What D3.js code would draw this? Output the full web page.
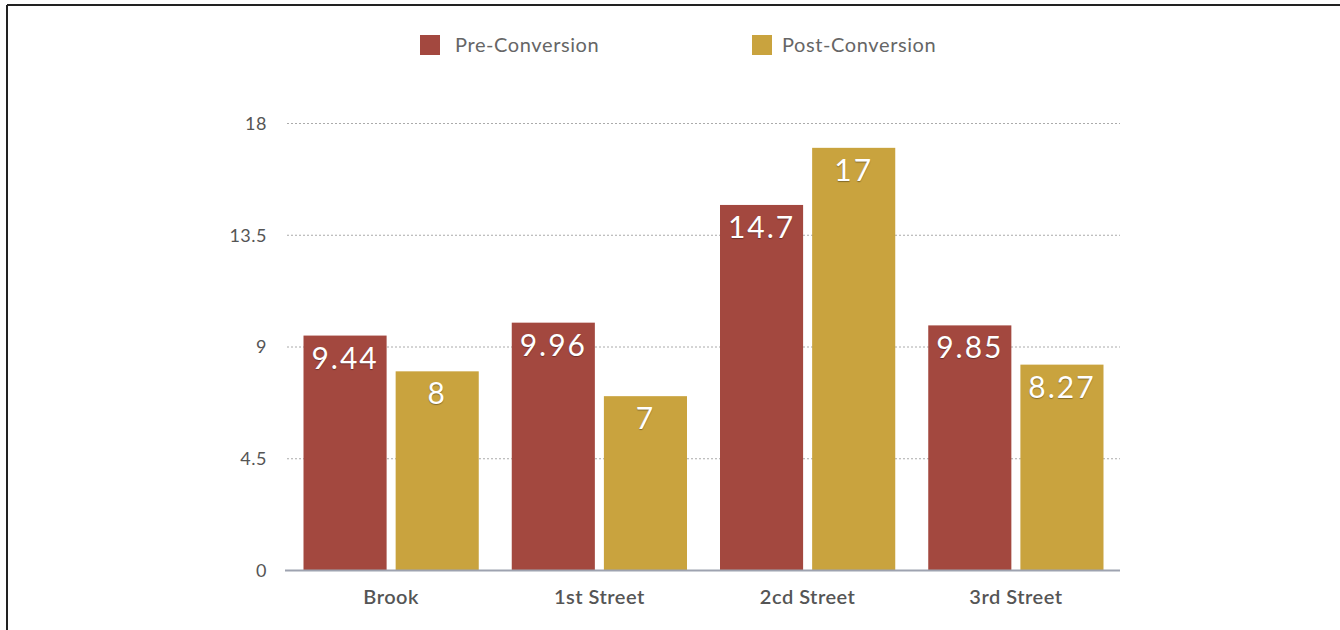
<!DOCTYPE html>
<html>
<head>
<meta charset="utf-8">
<script src="https://cdn.jsdelivr.net/npm/d3@7"></script>
<style>
  body { margin: 0; background: #fff; }
  text { font-family: Lato, "Open Sans", sans-serif; }
</style>
</head>
<body>
<svg id="chart"></svg>
<script>
// data
let categories = ["Brook", "1st Street", "2cd Street", "3rd Street"];
let seriesNames = ["Pre-Conversion", "Post-Conversion"];
let preValues = [9.44, 9.96, 14.7, 9.85];
let postValues = [8, 7, 17, 8.27];
let tickValues = [0, 4.5, 9, 13.5, 18];

let colors = ["#a3483f", "#c9a33e"];

let width = 1340;
let height = 630;

let svg = d3.select("#chart").attr("width", width).attr("height", height);

// frame lines at top and left
svg.append("line")
    .attr("x1", 7).attr("x2", width).attr("y1", 5).attr("y2", 5)
    .attr("stroke", "#222").attr("stroke-width", 2);
svg.append("line")
    .attr("x1", 7).attr("x2", 7).attr("y1", 5).attr("y2", height)
    .attr("stroke", "#222").attr("stroke-width", 2);

let plotLeft = 287, plotRight = 1120, plotTop = 123, plotBottom = 570;

let y = d3.scaleLinear().domain([0, 18]).range([plotBottom, plotTop]);

let x0 = d3.scaleBand()
    .domain(categories)
    .range([plotLeft, plotRight])
    .paddingInner(33 / 208.25)
    .paddingOuter(16.5 / 208.25);

let x1 = d3.scaleBand()
    .domain(seriesNames)
    .range([0, x0.bandwidth()])
    .paddingInner(0.098);

// grid lines (dotted)
svg.append("g")
    .selectAll("line")
    .data(tickValues.filter(function(d){ return d > 0; }))
    .enter()
    .append("line")
    .attr("x1", plotLeft).attr("x2", plotRight)
    .attr("y1", function(d){ return y(d) + 0.5; })
    .attr("y2", function(d){ return y(d) + 0.5; })
    .attr("stroke", "#aaa")
    .attr("stroke-width", 1)
    .attr("stroke-dasharray", "2,2");

// y axis labels
let yAxis = d3.axisLeft(y).tickValues(tickValues).tickSize(0).tickPadding(20)
    .tickFormat(function(d){ return String(d); });
let yg = svg.append("g").attr("transform", "translate(" + plotLeft + ",0)").call(yAxis);
yg.select(".domain").remove();
yg.selectAll("text")
    .attr("fill", "#555")
    .style("font-size", "18px")
    .style("letter-spacing", "0.5px")
    .attr("dy", "0.35em");

// bars
let rows = categories.map(function(c, i){
    return { cat: c, values: [preValues[i], postValues[i]] };
});

let groups = svg.append("g")
    .selectAll("g")
    .data(rows)
    .enter()
    .append("g")
    .attr("transform", function(d){ return "translate(" + x0(d.cat) + ",0)"; });

groups.selectAll("rect")
    .data(function(d){ return d.values.map(function(v, j){ return { name: seriesNames[j], value: v, idx: j }; }); })
    .enter()
    .append("rect")
    .attr("x", function(d){ return x1(d.name); })
    .attr("y", function(d){ return y(d.value); })
    .attr("width", x1.bandwidth())
    .attr("height", function(d){ return plotBottom - y(d.value); })
    .attr("fill", function(d){ return colors[d.idx]; });

groups.selectAll("text")
    .data(function(d){ return d.values.map(function(v, j){ return { name: seriesNames[j], value: v, idx: j }; }); })
    .enter()
    .append("text")
    .attr("x", function(d){ return x1(d.name) + x1.bandwidth() / 2; })
    .attr("y", function(d){ return y(d.value) + 33; })
    .attr("text-anchor", "middle")
    .attr("fill", "#fff")
    .style("font-size", "30px")
    .style("letter-spacing", "2px")
    .style("text-shadow", "0 1px 1px rgba(0,0,0,0.35)")
    .text(function(d){ return String(d.value); });

// baseline
svg.append("line")
    .attr("x1", plotLeft - 2).attr("x2", plotRight)
    .attr("y1", plotBottom + 0.5).attr("y2", plotBottom + 0.5)
    .attr("stroke", "#9ea3b0").attr("stroke-width", 2);

// x axis labels
let xAxis = d3.axisBottom(x0).tickSize(0).tickPadding(20);
let xg = svg.append("g").attr("transform", "translate(0," + plotBottom + ")").call(xAxis);
xg.select(".domain").remove();
xg.selectAll("text")
    .attr("fill", "#555")
    .style("font-size", "20px")
    .style("font-weight", "600")
    .style("letter-spacing", "0.5px");

// legend
let legendX = [420, 752];
let legend = svg.append("g")
    .selectAll("g")
    .data(seriesNames)
    .enter()
    .append("g")
    .attr("transform", function(d, i){ return "translate(" + legendX[i] + ",35)"; });

legend.append("rect")
    .attr("width", 20).attr("height", 20)
    .attr("fill", function(d, i){ return colors[i]; });

legend.append("text")
    .attr("x", function(d, i){ return i == 0 ? 35 : 30; })
    .attr("y", 17)
    .attr("fill", "#666")
    .style("font-size", "20px")
    .style("letter-spacing", "0.6px")
    .text(function(d){ return d; });
</script>
</body>
</html>
